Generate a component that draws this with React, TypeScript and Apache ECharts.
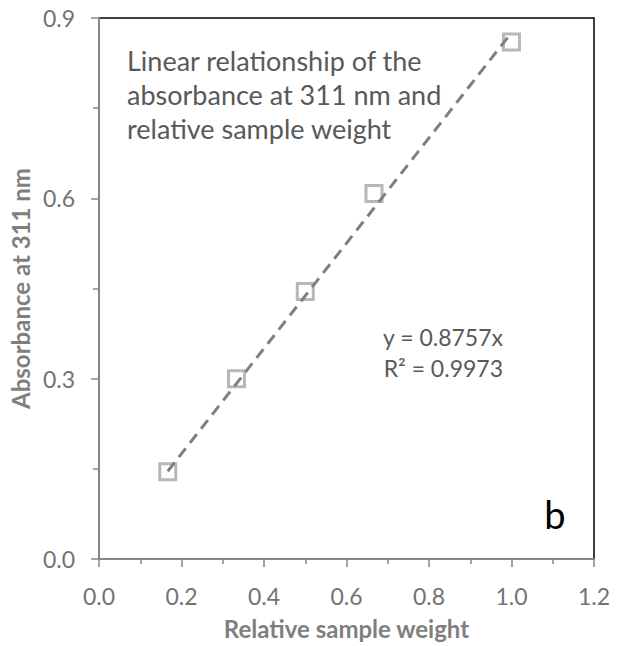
import React, { useEffect, useRef } from "react";
import * as echarts from "echarts";

const relativeWeight = [1 / 6, 1 / 3, 1 / 2, 2 / 3, 1];
const absorbance = [0.145, 0.3, 0.445, 0.608, 0.86];
const slope = 0.8757;
const rSquared = 0.9973;
const xTicks = [0, 0.2, 0.4, 0.6, 0.8, 1.0, 1.2];
const yTicks = [0, 0.3, 0.6, 0.9];
const noteLines = [
  "Linear relationship of the",
  "absorbance at 311 nm and",
  "relative sample weight",
];

const FONT = "Lato, 'Open Sans', sans-serif";
const AXIS_GRAY = "#868686";
const LABEL_GRAY = "#595959";
const TICK_GRAY = "#737373";

export default function App() {
  const ref = useRef<HTMLDivElement>(null);

  useEffect(() => {
    if (!ref.current) return;
    const chart = echarts.init(ref.current, undefined, { renderer: "svg" });
    const points = relativeWeight.map((x, i) => [x, absorbance[i]]);
    const xFirst = relativeWeight[0];
    const xLast = relativeWeight[relativeWeight.length - 1];
    const trend = [
      [xFirst, slope * xFirst],
      [xLast, slope * xLast],
    ];

    chart.setOption({
      animation: false,
      backgroundColor: "#ffffff",
      grid: {
        left: 97,
        top: 18,
        width: 497,
        height: 541,
        show: true,
        borderColor: "#000000",
        borderWidth: 1.5,
        backgroundColor: "transparent",
      },
      xAxis: {
        type: "value",
        min: xTicks[0],
        max: xTicks[xTicks.length - 1],
        interval: 0.2,
        name: "Relative sample weight",
        nameLocation: "middle",
        nameGap: 57,
        nameTextStyle: {
          fontFamily: FONT,
          fontWeight: "bold",
          fontSize: 24,
          color: "#7f7f7f",
        },
        axisLine: { show: true, onZero: false, lineStyle: { color: AXIS_GRAY, width: 2 } },
        axisTick: { show: true, inside: false, length: 8, lineStyle: { color: AXIS_GRAY, width: 1.5 } },
        minorTick: { show: true, splitNumber: 2, length: 5, lineStyle: { color: AXIS_GRAY, width: 1.5 } },
        splitLine: { show: false },
        axisLabel: {
          margin: 25,
          fontFamily: FONT,
          fontSize: 23,
          color: TICK_GRAY,
          formatter: (v: number) => v.toFixed(1),
        },
      },
      yAxis: {
        type: "value",
        min: yTicks[0],
        max: yTicks[yTicks.length - 1],
        interval: 0.3,
        name: "Absorbance at 311 nm",
        nameLocation: "middle",
        nameGap: 62,
        nameRotate: 90,
        nameTextStyle: {
          fontFamily: FONT,
          fontWeight: "bold",
          fontSize: 24,
          color: "#7f7f7f",
        },
        axisLine: { show: true, onZero: false, lineStyle: { color: AXIS_GRAY, width: 2 } },
        axisTick: { show: true, inside: false, length: 8, lineStyle: { color: AXIS_GRAY, width: 1.5 } },
        minorTick: { show: true, splitNumber: 2, length: 6, lineStyle: { color: AXIS_GRAY, width: 1.5 } },
        splitLine: { show: false },
        axisLabel: {
          margin: 24,
          fontFamily: FONT,
          fontSize: 23,
          color: TICK_GRAY,
          formatter: (v: number) => v.toFixed(1),
        },
      },
      series: [
        {
          type: "scatter",
          data: points,
          symbol: "rect",
          symbolSize: 16,
          z: 2,
          itemStyle: { color: "#ffffff", borderColor: "#a5a5a5", borderWidth: 3 },
        },
        {
          type: "line",
          data: trend,
          showSymbol: false,
          symbol: "none",
          z: 3,
          lineStyle: { color: "#7f7f7f", width: 3, type: [11, 7] },
        },
      ],
      graphic: [
        {
          type: "text",
          left: 127,
          top: 43,
          style: {
            text: noteLines.join("\n"),
            fontFamily: FONT,
            fontSize: 27,
            lineHeight: 34,
            fill: LABEL_GRAY,
          },
        },
        {
          type: "text",
          x: 503,
          y: 321,
          style: {
            text: `y = ${slope}x\nR² = ${rSquared}`,
            fontFamily: FONT,
            fontSize: 23,
            lineHeight: 31,
            fill: LABEL_GRAY,
            align: "right",
            verticalAlign: "top",
          },
        },
        {
          type: "text",
          x: 555,
          y: 514,
          style: {
            text: "b",
            fontFamily: FONT,
            fontSize: 38,
            fill: "#000000",
            align: "center",
            verticalAlign: "middle",
          },
        },
      ],
    });
    return () => chart.dispose();
  }, []);

  return (
    <div
      ref={ref}
      style={{ position: "absolute", left: 0, top: 0, width: 622, height: 646, background: "#fff" }}
    />
  );
}
